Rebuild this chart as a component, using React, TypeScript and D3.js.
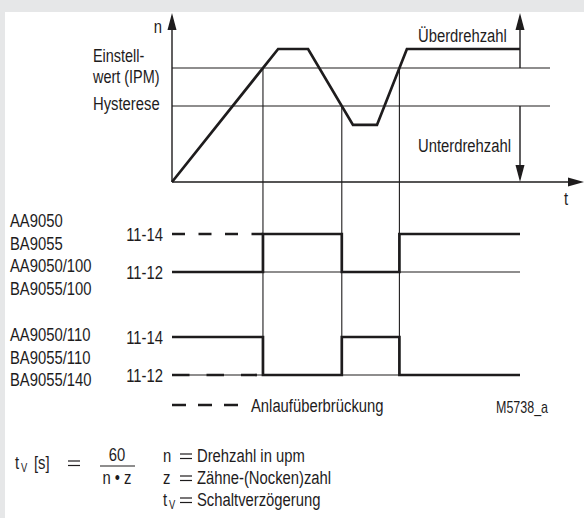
import React from "react";
import * as d3 from "d3";

// ---------- data ----------
const speedTime = [0, 30.5, 39.1, 52.0, 58.9, 67.5, 100];
const speedValue = [0, 100, 100, 42.9, 42.9, 100, 100];
const setpointLevel = 85.7; // Einstellwert (IPM)
const hysteresisLevel = 57.1; // Hysterese
const setpointLabels = ["Einstell-", "wert (IPM)"];
const hysteresisLabel = "Hysterese";
const zoneLabels = ["Überdrehzahl", "Unterdrehzahl"];
const contactLabels = ["11-14", "11-12"];
const groupADevices = ["AA9050", "BA9055", "AA9050/100", "BA9055/100"];
const groupBDevices = ["AA9050/110", "BA9055/110", "BA9055/140"];
const groupAStates = [0, 1, 0, 1]; // 1 = contact 11-14, 0 = contact 11-12 (per switching interval)
const groupBStates = [1, 0, 1, 0];
const groupAStartup = 1; // level held during start-up bridging
const groupBStartup = 0;
const legendLabel = "Anlaufüberbrückung";
const drawingId = "M5738_a";
const formulaNumerator = "60";
const formulaDenominator = "n • z";
const symbolLines = [
  { sym: "n", sub: "", text: "Drehzahl in upm" },
  { sym: "z", sub: "", text: "Zähne-(Nocken)zahl" },
  { sym: "t", sub: "V", text: "Schaltverzögerung" },
];

// ---------- layout ----------
const W = 584;
const H = 518;
const FONT = "'Liberation Sans', Arial, sans-serif";
const NARROW = 0.78;
const INK = "#1e1c1d";
const x = d3.scaleLinear().domain([0, 100]).range([172, 520]);
const y = d3.scaleLinear().domain([0, 100]).range([182, 49]);
const X0 = x(0);
const Y0 = y(0);
const AXIS_TOP = 13;
const AXIS_RIGHT = 584;
const THRESH_RIGHT = 550;
const rowsA = { hi: 234, lo: 272 };
const rowsB = { hi: 337, lo: 375 };

function crossing(level: number, dir: number, nth: number): number {
  let count = 0;
  for (let i = 0; i < speedTime.length - 1; i++) {
    const v0 = speedValue[i], v1 = speedValue[i + 1];
    const hit = dir > 0 ? v0 < level && v1 >= level : v0 > level && v1 <= level;
    if (hit) {
      if (count === nth) {
        const f = (level - v0) / (v1 - v0);
        return speedTime[i] + f * (speedTime[i + 1] - speedTime[i]);
      }
      count++;
    }
  }
  return 100;
}

const t1 = crossing(setpointLevel, 1, 0);
const t2 = crossing(hysteresisLevel, -1, 0);
const t3 = crossing(setpointLevel, 1, 1);
const switchTimes = [0, t1, t2, t3, 100];
const switchLevels = [setpointLevel, hysteresisLevel, setpointLevel];

function signalPath(states: number[], rows: { hi: number; lo: number }) {
  const pts: [number, number][] = [];
  states.forEach((s, i) => {
    const yy = s ? rows.hi : rows.lo;
    pts.push([x(switchTimes[i]), yy]);
    pts.push([x(switchTimes[i + 1]), yy]);
  });
  return d3.line()(pts) || "";
}

const speedLine = d3
  .line<number>()
  .x((_, i) => x(speedTime[i]))
  .y((v) => y(v));

function arrowUp(cx: number, tip: number) {
  return `M${cx},${tip} L${cx - 4.5},${tip + 17} L${cx + 4.5},${tip + 17} Z`;
}
function arrowDown(cx: number, tip: number) {
  return `M${cx},${tip} L${cx - 4.5},${tip - 17} L${cx + 4.5},${tip - 17} Z`;
}
function arrowRight(tipX: number, cy: number) {
  return `M${tipX},${cy} L${tipX - 16},${cy - 4.5} L${tipX - 16},${cy + 4.5} Z`;
}

type TProps = {
  x: number;
  y: number;
  anchor?: "start" | "middle" | "end";
  size?: number;
  children: React.ReactNode;
};
function T({ x: tx, y: ty, anchor = "start", size = 19, children }: TProps) {
  return (
    <g transform={`translate(${tx},${ty}) scale(${NARROW},1)`}>
      <text x={0} y={0} textAnchor={anchor} fontFamily={FONT} fontSize={size} fill={INK}>
        {children}
      </text>
    </g>
  );
}

function Eq({ x: ex, y: ey }: { x: number; y: number }) {
  // wide mathematical equals sign
  return (
    <g stroke={INK} strokeWidth={1.2}>
      <line x1={ex} x2={ex + 12} y1={ey - 8} y2={ey - 8} />
      <line x1={ex} x2={ex + 12} y1={ey - 3.5} y2={ey - 3.5} />
    </g>
  );
}

export default function App() {
  const thin = { stroke: INK, strokeWidth: 1.1, fill: "none" } as const;
  const thick = { stroke: INK, strokeWidth: 2.7, fill: "none" } as const;
  const xEnd = x(100);
  const bottomRow = rowsB.lo;
  const fracX = 117;

  return (
    <svg
      width={W}
      height={H}
      viewBox={`0 0 ${W} ${H}`}
      style={{ position: "absolute", left: 0, top: 0, display: "block" }}
    >
      <rect x={0} y={0} width={W} height={H} fill="#e6e7e8" />
      <rect x={5} y={12} width={W - 5} height={H - 12} fill="#ffffff" />

      {/* threshold lines */}
      <line x1={X0} x2={THRESH_RIGHT} y1={y(setpointLevel)} y2={y(setpointLevel)} {...thin} />
      <line x1={X0} x2={THRESH_RIGHT} y1={y(hysteresisLevel)} y2={y(hysteresisLevel)} {...thin} />

      {/* switching verticals */}
      {[t1, t2, t3].map((t, i) => (
        <line key={i} x1={x(t)} x2={x(t)} y1={y(switchLevels[i])} y2={bottomRow} {...thin} />
      ))}

      {/* axes */}
      <line x1={X0} x2={X0} y1={Y0} y2={AXIS_TOP + 10} stroke={INK} strokeWidth={1.4} />
      <path d={arrowUp(X0, AXIS_TOP)} fill={INK} />
      <line x1={X0} x2={AXIS_RIGHT - 10} y1={Y0} y2={Y0} stroke={INK} strokeWidth={1.4} />
      <path d={arrowRight(AXIS_RIGHT, Y0)} fill={INK} />

      {/* over/under speed arrows */}
      <line x1={xEnd} x2={xEnd} y1={y(setpointLevel)} y2={AXIS_TOP + 10} stroke={INK} strokeWidth={1.4} />
      <path d={arrowUp(xEnd, AXIS_TOP)} fill={INK} />
      <line x1={xEnd} x2={xEnd} y1={y(hysteresisLevel)} y2={Y0 - 10} stroke={INK} strokeWidth={1.4} />
      <path d={arrowDown(xEnd, Y0)} fill={INK} />

      {/* speed curve */}
      <path d={speedLine(speedValue) || ""} {...thick} strokeLinejoin="miter" />

      {/* axis labels */}
      <T x={162} y={33} anchor="end">n</T>
      <T x={564} y={205}>t</T>
      <T x={93} y={61.5} size={18.5}>{setpointLabels[0]}</T>
      <T x={93} y={82.5} size={18.5}>{setpointLabels[1]}</T>
      <T x={93} y={110}>{hysteresisLabel}</T>
      <T x={418} y={42}>{zoneLabels[0]}</T>
      <T x={418} y={152}>{zoneLabels[1]}</T>

      {/* contact baselines */}
      <line x1={X0} x2={xEnd} y1={rowsA.lo} y2={rowsA.lo} {...thin} />
      <line x1={X0} x2={xEnd} y1={rowsB.lo} y2={rowsB.lo} {...thin} />

      {/* start-up bridging */}
      <line
        x1={X0}
        x2={x(t1)}
        y1={groupAStartup ? rowsA.hi : rowsA.lo}
        y2={groupAStartup ? rowsA.hi : rowsA.lo}
        {...thick}
        strokeDasharray="13 13.5"
      />
      <line
        x1={X0}
        x2={x(t1) - 6}
        y1={groupBStartup ? rowsB.hi : rowsB.lo}
        y2={groupBStartup ? rowsB.hi : rowsB.lo}
        {...thick}
        strokeDasharray="17.5 17"
      />

      {/* contact signals */}
      <path d={signalPath(groupAStates, rowsA)} {...thick} strokeLinejoin="miter" />
      <path d={signalPath(groupBStates, rowsB)} {...thick} strokeLinejoin="miter" />

      {/* contact labels */}
      <T x={163} y={rowsA.hi + 7} anchor="end">{contactLabels[0]}</T>
      <T x={163} y={rowsA.lo + 6.5} anchor="end">{contactLabels[1]}</T>
      <T x={163} y={rowsB.hi + 6.5} anchor="end">{contactLabels[0]}</T>
      <T x={163} y={rowsB.lo + 6.5} anchor="end">{contactLabels[1]}</T>

      {/* device labels */}
      {groupADevices.map((d, i) => (
        <T key={d} x={10} y={227 + i * 22.5}>{d}</T>
      ))}
      {groupBDevices.map((d, i) => (
        <T key={d} x={10} y={341 + i * 22.5}>{d}</T>
      ))}

      {/* legend */}
      <line x1={X0} x2={238} y1={405} y2={405} {...thick} strokeDasharray="14 12" />
      <T x={251} y={412}>{legendLabel}</T>
      <T x={548} y={413} anchor="end" size={16}>{drawingId}</T>

      {/* formula */}
      <T x={15} y={469}>t</T>
      <T x={21} y={472} size={12}>V</T>
      <T x={34} y={469}>[s]</T>
      <Eq x={68} y={469} />
      <T x={fracX} y={461} anchor="middle">{formulaNumerator}</T>
      <line x1={fracX - 17} x2={fracX + 18} y1={466} y2={466} stroke={INK} strokeWidth={1.2} />
      <T x={fracX} y={484} anchor="middle">{formulaDenominator}</T>
      {symbolLines.map((s, i) => (
        <g key={i}>
          <T x={163} y={462 + i * 22}>{s.sym}</T>
          {s.sub ? <T x={169} y={465 + i * 22} size={12}>{s.sub}</T> : null}
          <Eq x={180} y={462 + i * 22} />
          <T x={197} y={462 + i * 22}>{s.text}</T>
        </g>
      ))}
    </svg>
  );
}
